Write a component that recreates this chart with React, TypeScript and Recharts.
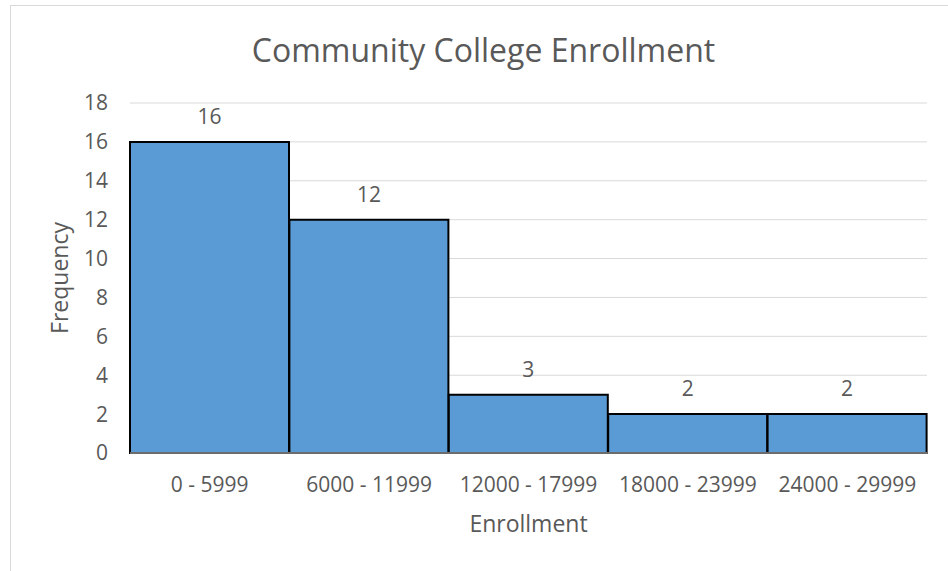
import React from "react";
import {
  Bar,
  BarChart,
  CartesianGrid,
  LabelList,
  XAxis,
  YAxis,
} from "recharts";

const bins = ["0 - 5999", "6000 - 11999", "12000 - 17999", "18000 - 23999", "24000 - 29999"];
const frequency = [16, 12, 3, 2, 2];
const yTicks = [0, 2, 4, 6, 8, 10, 12, 14, 16, 18];

const data = bins.map((bin, i) => ({ bin, count: frequency[i] }));

const font = "'Open Sans', 'Noto Sans', sans-serif";
const textColor = "#595959";
const gridColor = "#D9D9D9";
const barFill = "#5B9BD5";

const tickStyle = { fontSize: 21, fill: textColor, fontFamily: font };

function XTitle(props: any) {
  const vb = props.viewBox ?? { x: 130, y: 453, width: 797, height: 118 };
  return (
    <text
      x={vb.x + vb.width / 2}
      y={vb.y + 79}
      textAnchor="middle"
      fontSize={23}
      fill={textColor}
      fontFamily={font}
    >
      Enrollment
    </text>
  );
}

function YTitle(props: any) {
  const vb = props.viewBox ?? { x: 0, y: 103, width: 130, height: 350 };
  const x = vb.x + 68;
  const y = vb.y + vb.height / 2;
  return (
    <text
      x={x}
      y={y}
      transform={`rotate(-90, ${x}, ${y})`}
      textAnchor="middle"
      fontSize={23}
      fill={textColor}
      fontFamily={font}
    >
      Frequency
    </text>
  );
}

export default function App() {
  return (
    <div
      style={{
        position: "absolute",
        left: 0,
        top: 0,
        width: 948,
        height: 571,
        overflow: "hidden",
        background: "#fff",
      }}
    >
      <div
        style={{
          position: "absolute",
          left: 10,
          top: 5,
          width: 945,
          height: 620,
          border: `1px solid ${gridColor}`,
        }}
      />
      <div
        style={{
          position: "absolute",
          left: 10,
          top: 34,
          width: 947,
          textAlign: "center",
          fontFamily: font,
          fontSize: 32,
          lineHeight: 1,
          color: textColor,
        }}
      >
        Community College Enrollment
      </div>
      <div style={{ position: "absolute", left: 0, top: 0 }}>
        <BarChart
          width={948}
          height={571}
          data={data}
          barCategoryGap={0}
          barGap={0}
          margin={{ top: 103, right: 21, bottom: 0, left: 0 }}
        >
          <CartesianGrid stroke={gridColor} strokeWidth={1} vertical={false} />
          <XAxis
            dataKey="bin"
            height={118}
            tick={tickStyle}
            tickLine={false}
            tickSize={0}
            tickMargin={24}
            axisLine={{ stroke: gridColor, strokeWidth: 1 }}
            interval={0}
            label={<XTitle />}
          />
          <YAxis
            width={130}
            domain={[0, 18]}
            ticks={yTicks}
            tick={tickStyle}
            tickLine={false}
            tickSize={0}
            tickMargin={22}
            axisLine={false}
            label={<YTitle />}
          />
          <Bar
            dataKey="count"
            fill={barFill}
            stroke="#000"
            strokeWidth={2}
            isAnimationActive={false}
          >
            <LabelList
              dataKey="count"
              position="top"
              offset={18}
              fontSize={21}
              fill={textColor}
              fontFamily={font}
            />
          </Bar>
        </BarChart>
      </div>
    </div>
  );
}
